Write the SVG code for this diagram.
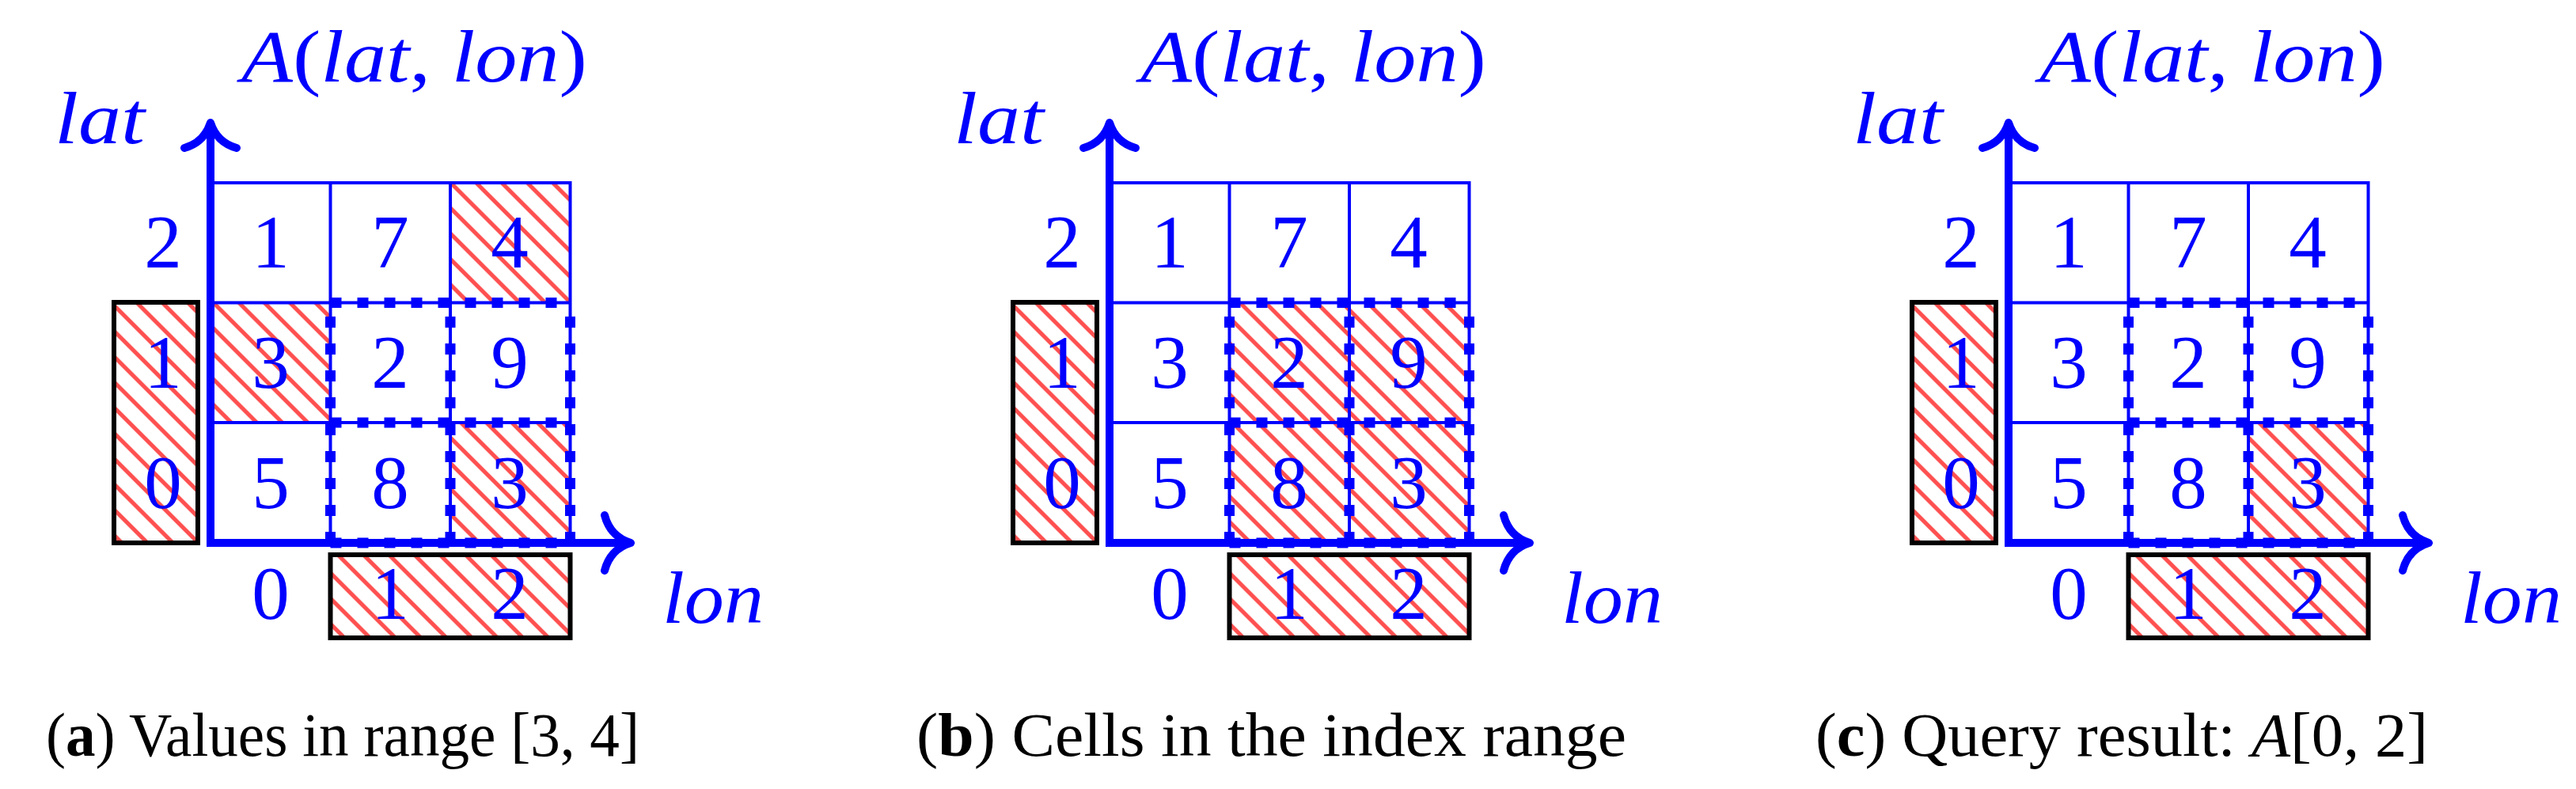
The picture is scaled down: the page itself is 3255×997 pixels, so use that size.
<svg xmlns="http://www.w3.org/2000/svg" width="3255" height="997" viewBox="0 0 3255 997">
<style>
.ax{fill:none;stroke:#0000ff;stroke-width:10;stroke-linejoin:miter}
.head{fill:none;stroke:#0000ff;stroke-width:10;stroke-linecap:round;stroke-linejoin:round}
.grid{fill:none;stroke:#0000ff;stroke-width:4}
.dash{fill:none;stroke:#0000ff;stroke-width:13;stroke-dasharray:14 20}
.box{fill:url(#hatch);stroke:#000000;stroke-width:6}
.hc{fill:url(#hatch);stroke:none}
.num{font-family:"Liberation Serif",serif;font-size:95px;fill:#0000ff;text-anchor:middle}
.math{font-family:"Liberation Serif",serif;font-size:93px;fill:#0000ff}
.it{font-style:italic}
.cap{font-family:"Liberation Serif",serif;font-size:78px;fill:#000000}
</style>
<defs>
<pattern id="hatch" patternUnits="userSpaceOnUse" width="22.8" height="22.8" patternTransform="rotate(-45)">
<line x1="11.4" y1="-1" x2="11.4" y2="23.8" stroke="#ff5050" stroke-width="5.2"/>
</pattern>
<g id="frame">
<path class="grid" d="M266,231 H720.5 V686 M266,382.5 H720.5 M266,534 H720.5 M417.5,231 V686 M569,231 V686"/>
<rect class="box" x="144" y="382" width="106" height="304"/>
<rect class="box" x="417.5" y="701" width="303" height="105"/>
<path class="ax" d="M266,155 V686 H797"/>
<path class="head" d="M233,187 Q258,180 266,155 Q274,180 299,187"/>
<path class="head" d="M764,651 Q771,678 797,686 Q771,694 764,721"/>
<path class="dash" d="M417.5,382.5 H720.5 M417.5,534 H720.5 M417.5,686 H720.5 M417.5,686 V382 M569,686 V382 M720.5,686 V382"/>
<text class="math" x="305" y="103" textLength="437" lengthAdjust="spacingAndGlyphs"><tspan class="it">A</tspan>(<tspan class="it">lat</tspan>, <tspan class="it">lon</tspan>)</text>
<text class="math it" x="69" y="181" textLength="114" lengthAdjust="spacingAndGlyphs">lat</text>
<text class="math it" x="837" y="787" textLength="128" lengthAdjust="spacingAndGlyphs">lon</text>
<text class="num" x="206" y="338">2</text>
<text class="num" x="206" y="490">1</text>
<text class="num" x="206" y="642">0</text>
<text class="num" x="342" y="782">0</text>
<text class="num" x="493" y="782">1</text>
<text class="num" x="644" y="782">2</text>
<text class="num" x="342" y="338">1</text>
<text class="num" x="493" y="338">7</text>
<text class="num" x="644" y="338">4</text>
<text class="num" x="342" y="490">3</text>
<text class="num" x="493" y="490">2</text>
<text class="num" x="644" y="490">9</text>
<text class="num" x="342" y="642">5</text>
<text class="num" x="493" y="642">8</text>
<text class="num" x="644" y="642">3</text>
</g>
</defs>
<g id="panel-a">
<g id="a-hatched-cells">
<rect class="hc" x="569" y="231" width="151.5" height="151.5"/>
<rect class="hc" x="266" y="382.5" width="151.5" height="151.5"/>
<rect class="hc" x="569" y="534" width="151.5" height="152"/>
</g>
<use id="a-grid" href="#frame"/>
<text id="a-caption" class="cap" x="58" y="955" textLength="750" lengthAdjust="spacingAndGlyphs">(<tspan font-weight="bold">a</tspan>) Values in range [3, 4]</text>
</g>
<g id="panel-b" transform="translate(1136,0)">
<g id="b-hatched-cells">
<rect class="hc" x="417.5" y="382.5" width="303" height="303.5"/>
</g>
<use id="b-grid" href="#frame"/>
<text id="b-caption" class="cap" x="22" y="955" textLength="897" lengthAdjust="spacingAndGlyphs">(<tspan font-weight="bold">b</tspan>) Cells in the index range</text>
</g>
<g id="panel-c" transform="translate(2272,0)">
<g id="c-hatched-cells">
<rect class="hc" x="569" y="534" width="151.5" height="152"/>
</g>
<use id="c-grid" href="#frame"/>
<text id="c-caption" class="cap" x="22" y="955" textLength="774" lengthAdjust="spacingAndGlyphs">(<tspan font-weight="bold">c</tspan>) Query result: <tspan font-style="italic">A</tspan>[0, 2]</text>
</g>
</svg>
